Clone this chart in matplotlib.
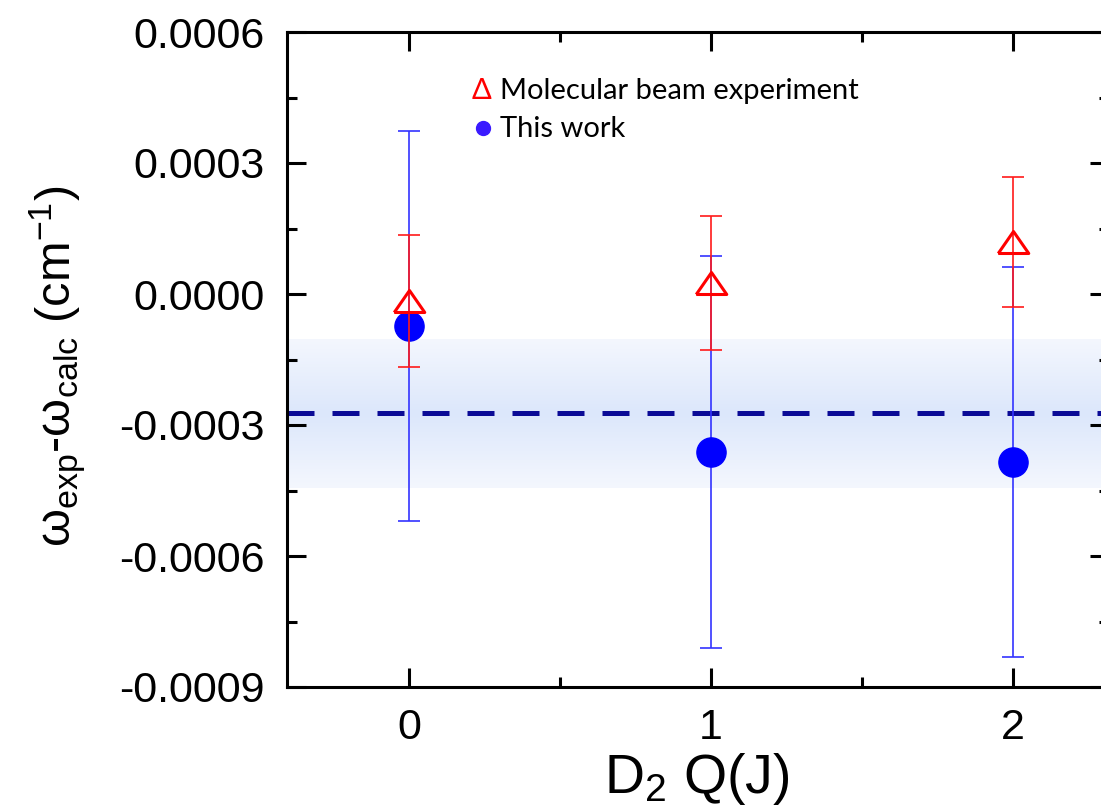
import numpy as np
import matplotlib
matplotlib.use("Agg")
import matplotlib.pyplot as plt
from matplotlib.colors import LinearSegmentedColormap
from matplotlib.ticker import FormatStrFormatter, MultipleLocator

plt.rcParams['font.family'] = ['Liberation Sans', 'DejaVu Sans']
plt.rcParams['mathtext.fontset'] = 'custom'
plt.rcParams['mathtext.rm'] = 'Liberation Sans'
plt.rcParams['mathtext.it'] = 'Liberation Sans'

# data
J = [0, 1, 2]
this_work = [-0.000073, -0.000362, -0.000385]
this_work_err = [0.000447, 0.000448, 0.000447]
beam_exp = [-0.000016, 0.000025, 0.000119]
beam_exp_err = [0.000152, 0.000153, 0.000149]
mean_value = -0.000273
band_low = -0.000444
band_high = -0.000103

fig = plt.figure(figsize=(11.01, 8.09), dpi=100)
ax = fig.add_axes([287 / 1101, 122 / 809, 822 / 1101, 655 / 809])

ax.set_xlim(-0.404, 2.318)
ax.set_ylim(-0.0009, 0.0006)

# shaded band with soft gradient
cmap = LinearSegmentedColormap.from_list('band', ['#f4f7fe', '#dce7fb', '#f4f7fe'])
grad = np.linspace(0, 1, 256).reshape(-1, 1)
ax.imshow(grad, cmap=cmap, aspect='auto', origin='lower',
          extent=[-0.404, 2.318, band_low, band_high], zorder=0)

ax.axhline(mean_value, color='#0a0a96', lw=3.6, dashes=(5.4, 3.6), zorder=1)

ax.errorbar(J, this_work, yerr=this_work_err, fmt='o', color='#0000ff',
            ecolor='#3333ff', elinewidth=1.2, capsize=8, capthick=1.2,
            markersize=21, zorder=2)

tri = [(-1, -0.72), (1, -0.72), (0, 0.72), (-1, -0.72)]
ax.errorbar(J, beam_exp, yerr=beam_exp_err, fmt='none', ecolor='#ff1a1a',
            elinewidth=1.2, capsize=8, capthick=1.2, zorder=3)
ax.plot(J, beam_exp, linestyle='none', marker=tri, markersize=22,
        markerfacecolor='none', markeredgecolor='#ff0000',
        markeredgewidth=2.2, zorder=4)

for s in ax.spines.values():
    s.set_linewidth(2.2)

ax.xaxis.set_major_locator(MultipleLocator(1))
ax.xaxis.set_minor_locator(MultipleLocator(0.5))
ax.yaxis.set_major_locator(MultipleLocator(0.0003))
ax.yaxis.set_minor_locator(MultipleLocator(0.00015))
ax.yaxis.set_major_formatter(FormatStrFormatter('%.4f'))

ax.tick_params(which='both', direction='in', top=True, right=True, width=2.2)
ax.tick_params(which='major', length=14)
ax.tick_params(which='minor', length=7.5)
ax.tick_params(axis='y', labelsize=31, pad=16)
ax.tick_params(axis='x', labelsize=31, pad=15)

fig.text(697 / 1101, 16 / 809, r'D$_2$ Q(J)', ha='center', va='baseline',
         fontsize=40)
fig.text(58 / 1101, 443 / 809,
         r'ω$_{\rm exp}$-ω$_{\rm calc}$ (cm$^{-1}$)',
         rotation=90, ha='center', va='center', fontsize=35)

# in-plot legend
fig.text(482 / 1101, (809 - 99) / 809, '\u0394', color='#ff0000',
         ha='center', va='baseline', fontsize=21, family='Lato')
fig.text(500 / 1101, (809 - 99) / 809, 'Molecular beam experiment',
         ha='left', va='baseline', fontsize=21, family='Lato')
ax.plot([483 / 1101], [(809 - 128) / 809], 'o', color='#3a1aff', markersize=10,
        transform=fig.transFigure, clip_on=False)
fig.text(500 / 1101, (809 - 137) / 809, 'This work',
         ha='left', va='baseline', fontsize=21, family='Lato')

fig.savefig('out.png', dpi=100)
